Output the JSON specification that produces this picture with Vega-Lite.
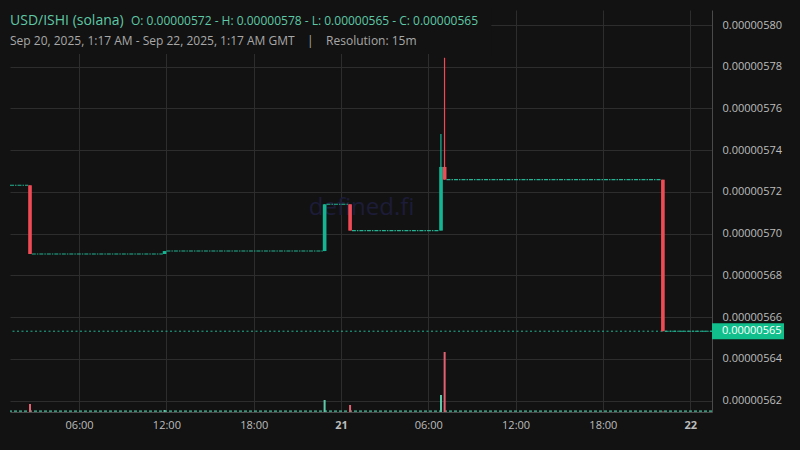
{
  "$schema": "https://vega.github.io/schema/vega-lite/v6.json",
  "width": 702,
  "height": 402,
  "autosize": {"type": "none"},
  "padding": {"left": 10, "top": 10, "right": 88, "bottom": 38},
  "background": "#121212",
  "config": {
    "font": "Open Sans",
    "view": {"stroke": null},
    "axis": {
      "labelFont": "Open Sans",
      "labelFontSize": 11,
      "labelColor": "#bdbdbd",
      "gridColor": "#2d2d2d",
      "gridWidth": 1,
      "domainColor": "#4a4a4a",
      "domainWidth": 1,
      "ticks": false
    }
  },
  "datasets": {
    "candles": [
      {"t": "2025-09-20T02:30:00Z", "t2": "2025-09-20T02:45:00Z", "o": 5.7232e-6, "h": 5.7232e-6, "l": 5.6903e-6, "c": 5.6903e-6, "v": 80},
      {"t": "2025-09-20T11:45:00Z", "t2": "2025-09-20T12:00:00Z", "o": 5.6903e-6, "h": 5.6917e-6, "l": 5.6903e-6, "c": 5.6917e-6, "v": 20},
      {"t": "2025-09-20T22:45:00Z", "t2": "2025-09-20T23:00:00Z", "o": 5.6917e-6, "h": 5.7141e-6, "l": 5.6917e-6, "c": 5.7141e-6, "v": 120},
      {"t": "2025-09-21T00:30:00Z", "t2": "2025-09-21T00:45:00Z", "o": 5.7141e-6, "h": 5.7141e-6, "l": 5.7015e-6, "c": 5.7015e-6, "v": 70},
      {"t": "2025-09-21T06:45:00Z", "t2": "2025-09-21T07:00:00Z", "o": 5.7015e-6, "h": 5.7478e-6, "l": 5.7015e-6, "c": 5.7320e-6, "v": 170},
      {"t": "2025-09-21T07:00:00Z", "t2": "2025-09-21T07:15:00Z", "o": 5.7320e-6, "h": 5.7843e-6, "l": 5.7259e-6, "c": 5.7259e-6, "v": 600},
      {"t": "2025-09-21T22:00:00Z", "t2": "2025-09-21T22:15:00Z", "o": 5.7259e-6, "h": 5.7259e-6, "l": 5.6533e-6, "c": 5.6533e-6, "v": 4}
    ],
    "flats": [
      {"t0": "2025-09-20T01:15:00Z", "t1": "2025-09-20T02:30:00Z", "p": 5.7232e-6},
      {"t0": "2025-09-20T02:45:00Z", "t1": "2025-09-20T11:45:00Z", "p": 5.6903e-6},
      {"t0": "2025-09-20T12:00:00Z", "t1": "2025-09-20T22:45:00Z", "p": 5.6917e-6},
      {"t0": "2025-09-20T23:00:00Z", "t1": "2025-09-21T00:30:00Z", "p": 5.7141e-6},
      {"t0": "2025-09-21T00:45:00Z", "t1": "2025-09-21T06:45:00Z", "p": 5.7015e-6},
      {"t0": "2025-09-21T07:15:00Z", "t1": "2025-09-21T22:00:00Z", "p": 5.7259e-6},
      {"t0": "2025-09-21T22:15:00Z", "t1": "2025-09-22T01:30:00Z", "p": 5.6533e-6}
    ]
  },
  "layer": [
    {
      "layer": [
        {
          "data": {"values": [{}]},
          "mark": {"type": "text", "align": "center", "baseline": "alphabetic", "fontSize": 24, "color": "#1c1c38", "font": "Open Sans"},
          "encoding": {
            "x": {"datum": {"year": 2025, "month": 9, "date": 21, "hours": 1, "minutes": 25, "utc": true}, "type": "temporal", "scale": {"type": "utc", "padding": 0, "domain": [{"year": 2025, "month": 9, "date": 20, "hours": 1, "minutes": 15, "utc": true}, {"year": 2025, "month": 9, "date": 22, "hours": 1, "minutes": 30, "utc": true}]}},
            "y": {"datum": 5.709e-6, "type": "quantitative", "scale": {"domain": [5.61459e-6, 5.80719e-6], "zero": false, "nice": false}},
            "text": {"value": "defined.fi"}
          }
        },
        {
          "data": {"name": "flats"},
          "mark": {"type": "rule", "strokeDash": [4, 1, 1.5, 1], "strokeWidth": 1.1, "color": "#24b292"},
          "encoding": {
            "x": {
              "field": "t0", "type": "temporal",
              "scale": {"type": "utc", "padding": 0, "domain": [{"year": 2025, "month": 9, "date": 20, "hours": 1, "minutes": 15, "utc": true}, {"year": 2025, "month": 9, "date": 22, "hours": 1, "minutes": 30, "utc": true}]},
              "axis": {
                "title": null,
                "grid": true,
                "labelPadding": 7,
                "labelOverlap": false,
                "values": [
                  {"year": 2025, "month": 9, "date": 20, "hours": 6, "utc": true},
                  {"year": 2025, "month": 9, "date": 20, "hours": 12, "utc": true},
                  {"year": 2025, "month": 9, "date": 20, "hours": 18, "utc": true},
                  {"year": 2025, "month": 9, "date": 21, "hours": 0, "utc": true},
                  {"year": 2025, "month": 9, "date": 21, "hours": 6, "utc": true},
                  {"year": 2025, "month": 9, "date": 21, "hours": 12, "utc": true},
                  {"year": 2025, "month": 9, "date": 21, "hours": 18, "utc": true},
                  {"year": 2025, "month": 9, "date": 22, "hours": 0, "utc": true}
                ],
                "labelExpr": "utchours(datum.value) == 0 ? utcFormat(datum.value, '%-d') : utcFormat(datum.value, '%H:%M')",
                "labelFontWeight": {"condition": {"test": "utchours(datum.value) == 0", "value": "bold"}, "value": "normal"}
              }
            },
            "x2": {"field": "t1"},
            "y": {
              "field": "p", "type": "quantitative",
              "scale": {"domain": [5.61459e-6, 5.80719e-6], "zero": false, "nice": false},
              "axis": {
                "title": null,
                "orient": "right",
                "grid": true,
                "format": ".8f",
                "labelPadding": 10,
                "values": [5.62e-6, 5.64e-6, 5.66e-6, 5.68e-6, 5.70e-6, 5.72e-6, 5.74e-6, 5.76e-6, 5.78e-6, 5.80e-6]
              }
            }
          }
        },
        {
          "data": {"values": [{}]},
          "mark": {"type": "rule", "strokeDash": [2, 2.5], "strokeWidth": 1, "color": "#1fb592"},
          "encoding": {
            "y": {"datum": 5.6533e-6, "type": "quantitative", "scale": {"domain": [5.61459e-6, 5.80719e-6], "zero": false, "nice": false}}
          }
        },
        {
          "data": {"name": "candles"},
          "mark": {"type": "rule", "strokeWidth": 1.2, "xOffset": 1.7},
          "encoding": {
            "x": {"field": "t", "type": "temporal", "scale": {"type": "utc", "padding": 0, "domain": [{"year": 2025, "month": 9, "date": 20, "hours": 1, "minutes": 15, "utc": true}, {"year": 2025, "month": 9, "date": 22, "hours": 1, "minutes": 30, "utc": true}]}},
            "y": {"field": "l", "type": "quantitative", "scale": {"domain": [5.61459e-6, 5.80719e-6], "zero": false, "nice": false}},
            "y2": {"field": "h"},
            "color": {"condition": {"test": "datum.c < datum.o", "value": "#ef4b55"}, "value": "#14b592"}
          }
        },
        {
          "data": {"name": "candles"},
          "mark": {"type": "rect"},
          "encoding": {
            "x": {"field": "t", "type": "temporal", "scale": {"type": "utc", "padding": 0, "domain": [{"year": 2025, "month": 9, "date": 20, "hours": 1, "minutes": 15, "utc": true}, {"year": 2025, "month": 9, "date": 22, "hours": 1, "minutes": 30, "utc": true}]}},
            "x2": {"field": "t2"},
            "y": {"field": "o", "type": "quantitative", "scale": {"domain": [5.61459e-6, 5.80719e-6], "zero": false, "nice": false}},
            "y2": {"field": "c"},
            "color": {"condition": {"test": "datum.c < datum.o", "value": "#ef4b55"}, "value": "#14b592"}
          }
        },
        {
          "data": {"values": [{}]},
          "mark": {"type": "rect", "color": "#121212"},
          "encoding": {
            "x": {"datum": {"year": 2025, "month": 9, "date": 20, "hours": 1, "minutes": 15, "utc": true}, "type": "temporal", "scale": {"type": "utc", "padding": 0, "domain": [{"year": 2025, "month": 9, "date": 20, "hours": 1, "minutes": 15, "utc": true}, {"year": 2025, "month": 9, "date": 22, "hours": 1, "minutes": 30, "utc": true}]}},
            "x2": {"datum": {"year": 2025, "month": 9, "date": 21, "hours": 10, "minutes": 20, "utc": true}},
            "y": {"datum": 5.80719e-6, "type": "quantitative", "scale": {"domain": [5.61459e-6, 5.80719e-6], "zero": false, "nice": false}},
            "y2": {"datum": 5.7861e-6}
          }
        },
        {
          "data": {"values": [{}]},
          "mark": {"type": "text", "align": "left", "baseline": "middle", "fontSize": 14, "color": "#5fc8a6", "font": "Open Sans"},
          "encoding": {
            "x": {"datum": {"year": 2025, "month": 9, "date": 20, "hours": 1, "minutes": 15, "utc": true}, "type": "temporal", "scale": {"type": "utc", "padding": 0, "domain": [{"year": 2025, "month": 9, "date": 20, "hours": 1, "minutes": 15, "utc": true}, {"year": 2025, "month": 9, "date": 22, "hours": 1, "minutes": 30, "utc": true}]}},
            "y": {"datum": 5.8020e-6, "type": "quantitative", "scale": {"domain": [5.61459e-6, 5.80719e-6], "zero": false, "nice": false}},
            "text": {"value": "USD/ISHI (solana)"}
          }
        },
        {
          "data": {"values": [{}]},
          "mark": {"type": "text", "align": "left", "baseline": "middle", "fontSize": 12, "color": "#5fc8a6", "font": "Open Sans"},
          "encoding": {
            "x": {"datum": {"year": 2025, "month": 9, "date": 20, "hours": 9, "minutes": 34, "utc": true}, "type": "temporal", "scale": {"type": "utc", "padding": 0, "domain": [{"year": 2025, "month": 9, "date": 20, "hours": 1, "minutes": 15, "utc": true}, {"year": 2025, "month": 9, "date": 22, "hours": 1, "minutes": 30, "utc": true}]}},
            "y": {"datum": 5.8020e-6, "type": "quantitative", "scale": {"domain": [5.61459e-6, 5.80719e-6], "zero": false, "nice": false}},
            "text": {"value": "O: 0.00000572 - H: 0.00000578 - L: 0.00000565 - C: 0.00000565"}
          }
        },
        {
          "data": {"values": [{}]},
          "mark": {"type": "text", "align": "left", "baseline": "middle", "fontSize": 12, "color": "#a8a8a8", "font": "Open Sans"},
          "encoding": {
            "x": {"datum": {"year": 2025, "month": 9, "date": 20, "hours": 1, "minutes": 15, "utc": true}, "type": "temporal", "scale": {"type": "utc", "padding": 0, "domain": [{"year": 2025, "month": 9, "date": 20, "hours": 1, "minutes": 15, "utc": true}, {"year": 2025, "month": 9, "date": 22, "hours": 1, "minutes": 30, "utc": true}]}},
            "y": {"datum": 5.79236e-6, "type": "quantitative", "scale": {"domain": [5.61459e-6, 5.80719e-6], "zero": false, "nice": false}},
            "text": {"value": "Sep 20, 2025, 1:17 AM - Sep 22, 2025, 1:17 AM GMT\u00a0\u00a0\u00a0\u00a0|\u00a0\u00a0\u00a0\u00a0Resolution: 15m"}
          }
        },
        {
          "data": {"values": [{}]},
          "mark": {"type": "rect", "color": "#10bf8c"},
          "encoding": {
            "x": {"datum": {"year": 2025, "month": 9, "date": 22, "hours": 1, "minutes": 30, "utc": true}, "type": "temporal", "scale": {"type": "utc", "padding": 0, "domain": [{"year": 2025, "month": 9, "date": 20, "hours": 1, "minutes": 15, "utc": true}, {"year": 2025, "month": 9, "date": 22, "hours": 1, "minutes": 30, "utc": true}]}},
            "x2": {"datum": {"year": 2025, "month": 9, "date": 22, "hours": 6, "minutes": 27, "utc": true}},
            "y": {"datum": 5.65709e-6, "type": "quantitative", "scale": {"domain": [5.61459e-6, 5.80719e-6], "zero": false, "nice": false}},
            "y2": {"datum": 5.64942e-6}
          }
        },
        {
          "data": {"values": [{}]},
          "mark": {"type": "text", "align": "left", "baseline": "middle", "fontSize": 11, "color": "#ffffff", "font": "Open Sans", "dx": 10},
          "encoding": {
            "x": {"datum": {"year": 2025, "month": 9, "date": 22, "hours": 1, "minutes": 30, "utc": true}, "type": "temporal", "scale": {"type": "utc", "padding": 0, "domain": [{"year": 2025, "month": 9, "date": 20, "hours": 1, "minutes": 15, "utc": true}, {"year": 2025, "month": 9, "date": 22, "hours": 1, "minutes": 30, "utc": true}]}},
            "y": {"datum": 5.6533e-6, "type": "quantitative", "scale": {"domain": [5.61459e-6, 5.80719e-6], "zero": false, "nice": false}},
            "text": {"value": "0.00000565"}
          }
        }
      ]
    },
    {
      "layer": [
        {
          "data": {"values": [{}]},
          "mark": {"type": "rule", "strokeDash": [3, 2], "strokeWidth": 1.2, "color": "#4cbf9c"},
          "encoding": {
            "y": {"datum": 8, "type": "quantitative", "scale": {"domain": [0, 4020], "nice": false}, "axis": null}
          }
        },
        {
          "data": {"name": "candles"},
          "mark": {"type": "rule", "strokeWidth": 2, "xOffset": 1.8},
          "encoding": {
            "x": {"field": "t", "type": "temporal", "scale": {"type": "utc", "padding": 0, "domain": [{"year": 2025, "month": 9, "date": 20, "hours": 1, "minutes": 15, "utc": true}, {"year": 2025, "month": 9, "date": 22, "hours": 1, "minutes": 30, "utc": true}]}},
            "y": {"field": "v", "type": "quantitative", "scale": {"domain": [0, 4020], "nice": false}, "axis": null},
            "y2": {"datum": 0},
            "color": {"condition": {"test": "datum.c < datum.o", "value": "#e2606f"}, "value": "#5ccaa8"}
          }
        }
      ]
    }
  ],
  "resolve": {"scale": {"y": "independent"}}
}
